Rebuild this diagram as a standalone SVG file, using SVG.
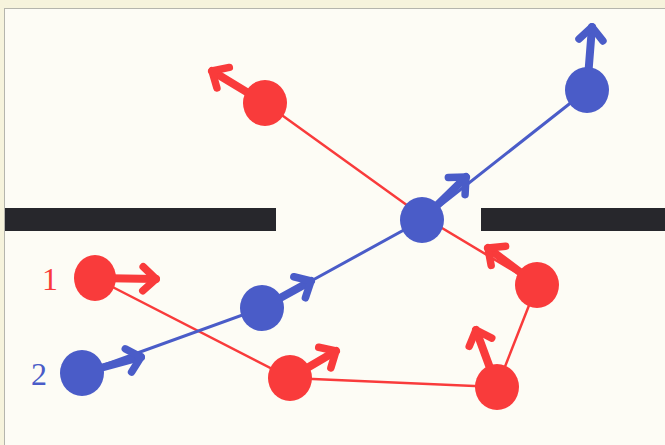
<svg xmlns="http://www.w3.org/2000/svg" width="665" height="445" viewBox="0 0 665 445">
<style>
.r{fill:#f93b3b}
.b{fill:#4a5cc8}
.rl{fill:none;stroke:#f93b3b;stroke-width:2.5}
.bl{fill:none;stroke:#4a5cc8;stroke-width:3}
.ra{fill:none;stroke:#f93b3b;stroke-width:8;stroke-linecap:round;marker-end:url(#hr)}
.ba{fill:none;stroke:#4a5cc8;stroke-width:8;stroke-linecap:round;marker-end:url(#hb)}
.bar{fill:#27272c}
.lbl{font-family:"Liberation Serif",serif;font-size:32px;text-anchor:middle}
</style>
<defs>
<marker id="hr" markerUnits="userSpaceOnUse" markerWidth="40" markerHeight="40" viewBox="-20 -20 40 40" refX="0" refY="0" orient="auto" overflow="visible">
<path d="M-13,-12 L0,0 L-13,12" fill="none" stroke="#f93b3b" stroke-width="7.5" stroke-linecap="round" stroke-linejoin="round"/>
</marker>
<marker id="hb" markerUnits="userSpaceOnUse" markerWidth="40" markerHeight="40" viewBox="-20 -20 40 40" refX="0" refY="0" orient="auto" overflow="visible">
<path d="M-13,-12 L0,0 L-13,12" fill="none" stroke="#4a5cc8" stroke-width="7.5" stroke-linecap="round" stroke-linejoin="round"/>
</marker>
</defs>
<rect x="0" y="0" width="665" height="445" fill="#f6f3dc"/>
<rect x="4.5" y="8.5" width="662" height="440" fill="#fdfcf5" stroke="#b5b5ad" stroke-width="1"/>
<g id="walls">
<rect class="bar" x="5" y="208" width="271" height="23"/>
<rect class="bar" x="481" y="208" width="184" height="23"/>
</g>
<g id="connectors">
<polyline class="rl" points="95,278 290,378 497,387 537,285 422,216 265,103"/>
<polyline class="bl" points="82,373 262,308 422,220 587,90"/>
</g>
<g id="red1"><path class="ra" d="M95,278 L156,279"/><ellipse class="r" cx="95" cy="278" rx="21" ry="23"/><text class="lbl" x="50" y="290" fill="#f93b3b">1</text></g>
<g id="red2"><path class="ra" d="M290,378 L336,351"/><ellipse class="r" cx="290" cy="378" rx="22" ry="23"/></g>
<g id="red3"><path class="ra" d="M497,387 L476,330"/><ellipse class="r" cx="497" cy="387" rx="22" ry="23"/></g>
<g id="red4"><path class="ra" d="M537,285 L488,248"/><ellipse class="r" cx="537" cy="285" rx="22" ry="23"/></g>
<g id="red5"><path class="ra" d="M265,103 L212,71"/><ellipse class="r" cx="265" cy="103" rx="22" ry="23"/></g>
<g id="blue1"><path class="ba" d="M82,373 L141,357"/><ellipse class="b" cx="82" cy="373" rx="22" ry="23"/><text class="lbl" x="39" y="385" fill="#4a5cc8">2</text></g>
<g id="blue2"><path class="ba" d="M262,308 L311,281"/><ellipse class="b" cx="262" cy="308" rx="22" ry="23"/></g>
<g id="blue3"><path class="ba" d="M422,220 L466,177"/><ellipse class="b" cx="422" cy="220" rx="22" ry="23"/></g>
<g id="blue4"><path class="ba" d="M587,90 L592,27"/><ellipse class="b" cx="587" cy="90" rx="22" ry="23"/></g>
</svg>
